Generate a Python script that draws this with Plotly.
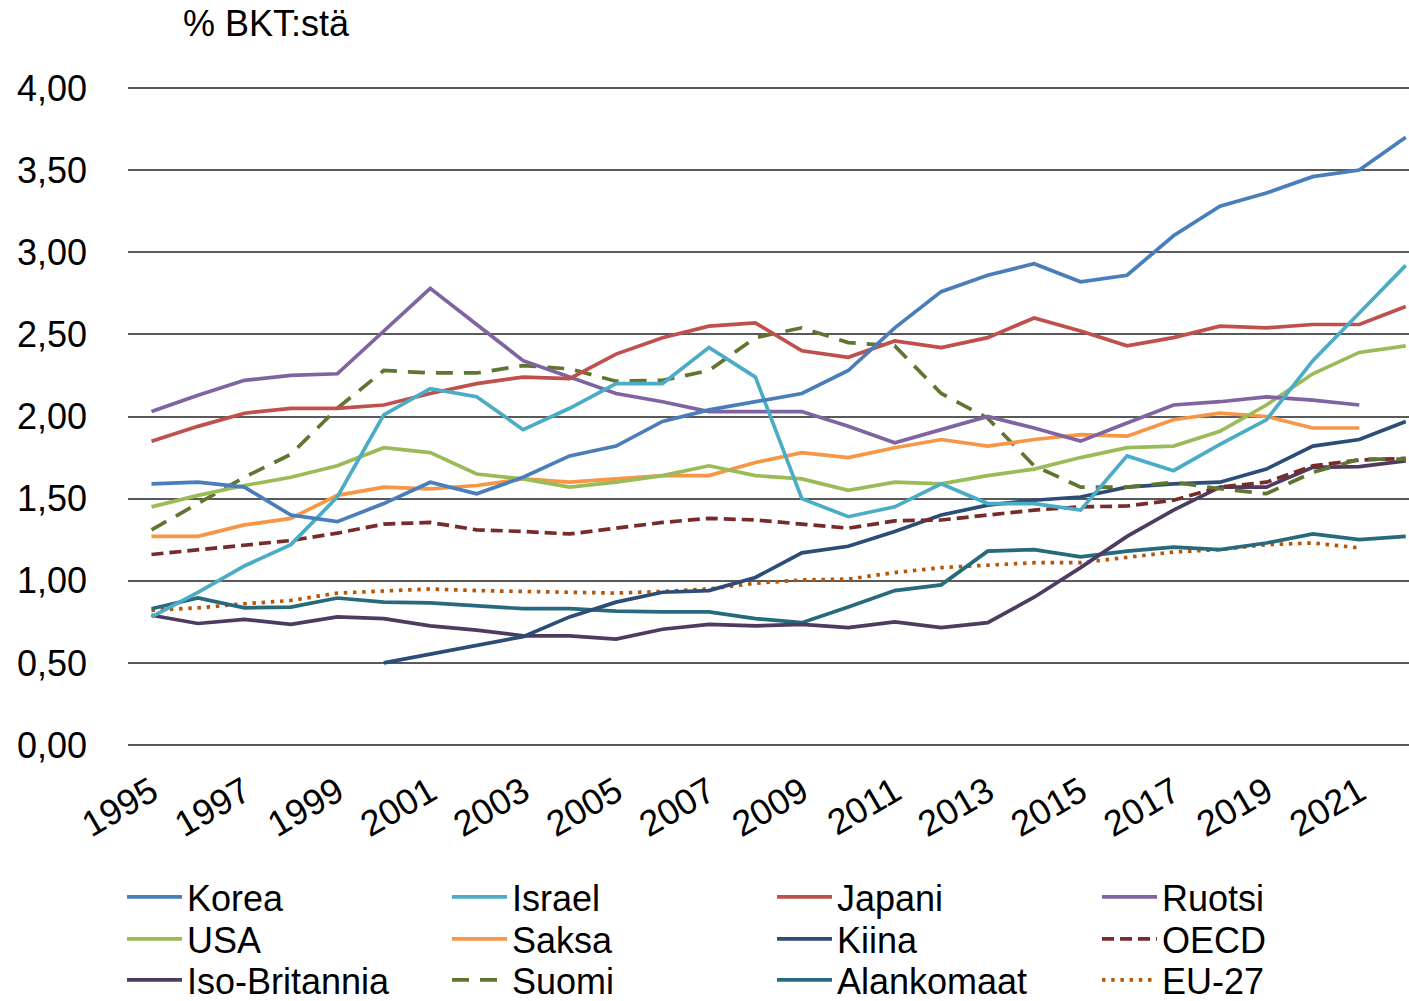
import plotly.graph_objects as go

years = list(range(1995, 2023))
tick_years = list(range(1995, 2022, 2))

korea = [1.59, 1.60, 1.57, 1.40, 1.36, 1.47, 1.60, 1.53, 1.63, 1.76,
         1.82, 1.97, 2.04, 2.09, 2.14, 2.28, 2.54, 2.76, 2.86, 2.93,
         2.82, 2.86, 3.10, 3.28, 3.36, 3.46, 3.50, 3.70]
israel = [0.78, 0.93, 1.09, 1.22, 1.51, 2.01, 2.17, 2.12, 1.92, 2.05,
          2.20, 2.20, 2.42, 2.24, 1.50, 1.39, 1.45, 1.59, 1.47, 1.47,
          1.43, 1.76, 1.67, 1.83, 1.98, 2.34, 2.63, 2.92]
japani = [1.85, 1.94, 2.02, 2.05, 2.05, 2.07, 2.14, 2.20, 2.24, 2.23,
          2.38, 2.48, 2.55, 2.57, 2.40, 2.36, 2.46, 2.42, 2.48, 2.60,
          2.52, 2.43, 2.48, 2.55, 2.54, 2.56, 2.56, 2.67]
ruotsi = [2.03, 2.13, 2.22, 2.25, 2.26, 2.52, 2.78, 2.56, 2.34, 2.24,
          2.14, 2.09, 2.03, 2.03, 2.03, 1.94, 1.84, 1.92, 2.00, 1.93,
          1.85, 1.96, 2.07, 2.09, 2.12, 2.10, 2.07, None]
usa = [1.45, 1.52, 1.58, 1.63, 1.70, 1.81, 1.78, 1.65, 1.62, 1.57,
       1.60, 1.64, 1.70, 1.64, 1.62, 1.55, 1.60, 1.59, 1.64, 1.68,
       1.75, 1.81, 1.82, 1.91, 2.07, 2.26, 2.39, 2.43]
saksa = [1.27, 1.27, 1.34, 1.38, 1.52, 1.57, 1.56, 1.58, 1.62, 1.60,
         1.62, 1.64, 1.64, 1.72, 1.78, 1.75, 1.81, 1.86, 1.82, 1.86,
         1.89, 1.88, 1.98, 2.02, 2.00, 1.93, 1.93, None]
kiina = [None, None, None, None, None, 0.50, 0.555, 0.61, 0.66, 0.78,
         0.87, 0.93, 0.94, 1.02, 1.17, 1.21, 1.30, 1.40, 1.46, 1.49,
         1.51, 1.57, 1.59, 1.60, 1.68, 1.82, 1.86, 1.97]
oecd = [1.16, 1.19, 1.22, 1.245, 1.29, 1.345, 1.355, 1.31, 1.30, 1.285,
        1.32, 1.355, 1.38, 1.37, 1.345, 1.32, 1.365, 1.37, 1.40, 1.43,
        1.45, 1.455, 1.49, 1.57, 1.60, 1.70, 1.735, 1.745]
iso_britannia = [0.79, 0.74, 0.765, 0.735, 0.78, 0.77, 0.725, 0.70, 0.665, 0.665,
                 0.645, 0.705, 0.735, 0.725, 0.735, 0.715, 0.75, 0.715, 0.745, 0.90,
                 1.08, 1.27, 1.43, 1.57, 1.57, 1.69, 1.695, 1.73]
suomi = [1.31, 1.47, 1.63, 1.77, 2.05, 2.28, 2.265, 2.265, 2.31, 2.29,
         2.215, 2.22, 2.28, 2.48, 2.54, 2.45, 2.43, 2.14, 1.99, 1.70,
         1.57, 1.57, 1.60, 1.56, 1.53, 1.66, 1.74, 1.74]
alankomaat = [0.83, 0.895, 0.835, 0.84, 0.895, 0.87, 0.865, 0.845, 0.83, 0.83,
              0.815, 0.81, 0.81, 0.77, 0.745, 0.84, 0.94, 0.975, 1.18, 1.19,
              1.145, 1.18, 1.205, 1.19, 1.23, 1.285, 1.25, 1.27]
eu27 = [0.82, 0.835, 0.86, 0.88, 0.925, 0.94, 0.95, 0.94, 0.935, 0.93,
        0.925, 0.935, 0.95, 0.985, 1.005, 1.01, 1.05, 1.08, 1.095, 1.11,
        1.11, 1.145, 1.175, 1.19, 1.22, 1.23, 1.20, None]

# (name, values, color, dash, legend row, order in row)
series = [
    ("Korea", korea, "#4A7EBB", "solid", "legend", 1),
    ("Israel", israel, "#4BACC6", "solid", "legend", 2),
    ("Japani", japani, "#C0504D", "solid", "legend", 3),
    ("Ruotsi", ruotsi, "#8064A2", "solid", "legend", 4),
    ("USA", usa, "#9BBB59", "solid", "legend2", 1),
    ("Saksa", saksa, "#F79646", "solid", "legend2", 2),
    ("Kiina", kiina, "#2C4D75", "solid", "legend2", 3),
    ("OECD", oecd, "#772C2A", "12px,6px", "legend2", 4),
    ("Iso-Britannia", iso_britannia, "#4D3B62", "solid", "legend3", 1),
    ("Suomi", suomi, "#5F7530", "17px,11px", "legend3", 2),
    ("Alankomaat", alankomaat, "#276A7C", "solid", "legend3", 3),
    ("EU-27", eu27, "#B65708", "3.5px,5.7px", "legend3", 4),
]

# drawing order (back to front) roughly like the original
draw_order = ["EU-27", "Alankomaat", "Iso-Britannia", "Kiina", "OECD", "Suomi",
              "Saksa", "USA", "Ruotsi", "Japani", "Israel", "Korea"]

FONT = "Liberation Sans, Arial, sans-serif"
FS = 36
fig = go.Figure()
lookup = {s[0]: s for s in series}
for nm in draw_order:
    name, vals, color, dash, leg, rank = lookup[nm]
    fig.add_trace(go.Scatter(
        x=years, y=vals, name=name, mode="lines",
        line=dict(color=color, width=3.7, dash=dash),
        legend=leg, legendrank=rank, connectgaps=False,
    ))

W, H = 1409, 1001
ml, mr, mt, mb = 128, 0, 86, 254
pw, ph = W - ml - mr, H - mt - mb

def px_x(p):
    return (p - ml) / pw

def px_y(p):
    return (H - mb - p) / ph

leg_common = dict(
    font=dict(family=FONT, size=FS, color="#000000"),
    bgcolor="rgba(0,0,0,0)", itemwidth=55, orientation="h",
    entrywidth=255, entrywidthmode="pixels",
    xanchor="left", yanchor="middle", traceorder="normal",
    itemclick=False, itemdoubleclick=False,
)
row_y = [897, 939, 980]
layout_legends = {}
for i, key in enumerate(["legend", "legend2", "legend3"]):
    layout_legends[key] = dict(leg_common, x=px_x(122), y=px_y(row_y[i]))

fig.update_layout(
    width=W, height=H,
    margin=dict(l=ml, r=mr, t=mt, b=mb, autoexpand=False),
    paper_bgcolor="white", plot_bgcolor="white",
    separators=", ",
    font=dict(family=FONT, size=FS, color="#000000"),
    title=dict(text="% BKT:stä", x=183 / W, xanchor="left", xref="container",
               y=1 - 23 / H, yanchor="middle", yref="container",
               font=dict(family=FONT, size=FS, color="#000000")),
    xaxis=dict(
        range=[1994.494, 2022.07], tickmode="array", tickvals=tick_years,
        ticktext=[str(y) for y in tick_years], tickangle=-30,
        showgrid=False, zeroline=False, showline=False, ticks="",
        tickfont=dict(family=FONT, size=FS, color="#000000"),
        ticklabelstandoff=16, automargin=False,
    ),
    yaxis=dict(
        range=[-0.012, 4.012], tickmode="array",
        tickvals=[0, 0.5, 1, 1.5, 2, 2.5, 3, 3.5, 4],
        tickformat=".2f", showgrid=True, gridcolor="#595959", gridwidth=2,
        zeroline=False, showline=False, ticks="",
        tickfont=dict(family=FONT, size=FS, color="#000000"),
        ticklabelstandoff=40, automargin=False,
    ),
    showlegend=True,
    **layout_legends,
)

fig.write_html(
    "out.html",
    config={"displayModeBar": False},
    post_script="document.body.style.margin='0';document.body.style.padding='0';",
)
